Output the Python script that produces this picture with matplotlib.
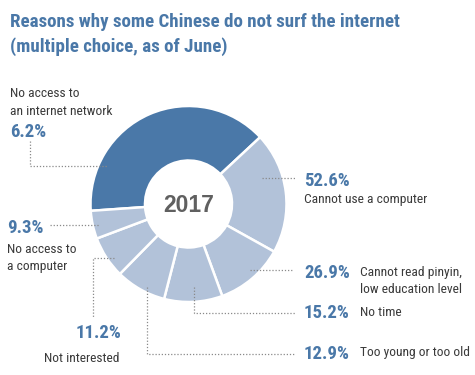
import matplotlib
matplotlib.use("Agg")
import matplotlib.pyplot as plt
from matplotlib import font_manager
from matplotlib.font_manager import FontProperties

# ---- data ----
values = [52.6, 26.9, 15.2, 12.9, 11.2, 9.3, 6.2]
pct_labels = ["52.6%", "26.9%", "15.2%", "12.9%", "11.2%", "9.3%", "6.2%"]
reasons = ["Cannot use a computer", "Cannot read pinyin,\nlow education level",
           "No time", "Too young or too old", "Not interested",
           "No access to\na computer", "No access to\nan internet network"]
year = "2017"
title_lines = ["Reasons why some Chinese do not surf the internet",
               "(multiple choice, as of June)"]


def pick_font(bold):
    cands = []
    for f in font_manager.fontManager.ttflist:
        fn = f.fname.lower()
        if not ("condensed" in fn or "narrow" in fn or "cond" in f.name.lower()):
            continue
        if "italic" in fn or "oblique" in fn:
            continue
        w = f.weight if isinstance(f.weight, int) else (700 if "bold" in str(f.weight) else 400)
        isbold = w >= 600 or "bold" in fn
        if isbold != bold:
            continue
        if "light" in fn or "thin" in fn or "black" in fn or "extra" in fn or "semi" in fn or "medium" in fn:
            continue
        rank = 9
        for i, key in enumerate(["roboto", "opensans", "open sans", "liberation", "dejavusans", "dejavu"]):
            if key in fn:
                rank = i
                break
        if "mono" in fn or "serif" in fn.replace("sans", ""):
            rank += 20
        cands.append((rank, f.fname))
    cands.sort()
    if cands:
        return cands[0][1]
    return None

fb = pick_font(True)
fr = pick_font(False)
BOLDP = FontProperties(fname=fb) if fb else FontProperties(family="DejaVu Sans", weight="bold")
REGP = FontProperties(fname=fr) if fr else FontProperties(family="DejaVu Sans")

BLUE = "#4a78a8"
LIGHT = "#b2c2d9"
TXT = "#3a3a3a"
LEAD = "#8a8a8a"

W, H = 475, 375
fig = plt.figure(figsize=(4.75, 3.75), dpi=100)
ax = fig.add_axes([0, 0, 1, 1])


def Y(y):
    return H - y

# donut
cx, cy, R = 188.5, Y(204), 98
colors = [BLUE] + [LIGHT] * (len(values) - 1)
ax.pie(values, colors=colors, startangle=184, counterclock=False,
       center=(cx, cy), radius=R, frame=True,
       wedgeprops=dict(width=R - 43.5, edgecolor="white", linewidth=1.8))
ax.set_xlim(0, W)
ax.set_ylim(0, H)
ax.set_aspect("equal")
ax.axis("off")

ax.text(cx, cy - 1, year, ha="center", va="center", fontsize=16.5,
        fontweight="bold", color="#606060", family=["Liberation Sans", "DejaVu Sans"])


def txt(x, y, s, size, prop, color, ha="left"):
    p = prop.copy()
    p.set_size(size)
    ax.text(x, Y(y), s, fontproperties=p, color=color, va="baseline", ha=ha)

# title
txt(10, 27, title_lines[0], 13.7, BOLDP, BLUE)
txt(10, 52, title_lines[1], 13.7, BOLDP, BLUE)


def pct(x, y, s, ha="left"):
    txt(x, y, s, 13.5, BOLDP, BLUE, ha)


def lab(x, y, s, ha="left"):
    txt(x, y, s, 9.7, REGP, TXT, ha)


def lead(xs, ys):
    ax.plot(xs, [Y(v) for v in ys], color=LEAD, lw=0.9, ls=(0, (1, 1.5)))

# right side
pct(304, 186, pct_labels[0]); lab(304, 203, reasons[0])
lead([262, 295], [178, 178])

r1 = reasons[1].split("\n")
pct(304, 278, pct_labels[1]); lab(360, 276, r1[0]); lab(360, 293, r1[1])
lead([250, 293], [270, 270])

pct(304, 318, pct_labels[2]); lab(360, 316, reasons[2])
lead([194, 194, 295], [287, 313, 313])

pct(304, 359, pct_labels[3]); lab(360, 356, reasons[3])
lead([147, 147, 295], [287, 354, 354])

# left side
pct(121, 338, pct_labels[4], ha="right"); lab(120, 362, reasons[4], ha="right")
lead([114, 93, 93], [258, 258, 318])

r5 = reasons[5].split("\n")
pct(7, 233, pct_labels[5]); lab(7, 253, r5[0]); lab(7, 270, r5[1])
lead([50, 100], [225, 225])

r6 = reasons[6].split("\n")
lab(10, 97, r6[0]); lab(10, 115, r6[1])
pct(10, 137, pct_labels[6])
lead([30, 30, 108], [141, 166, 166])

fig.savefig("out.png", dpi=100)
